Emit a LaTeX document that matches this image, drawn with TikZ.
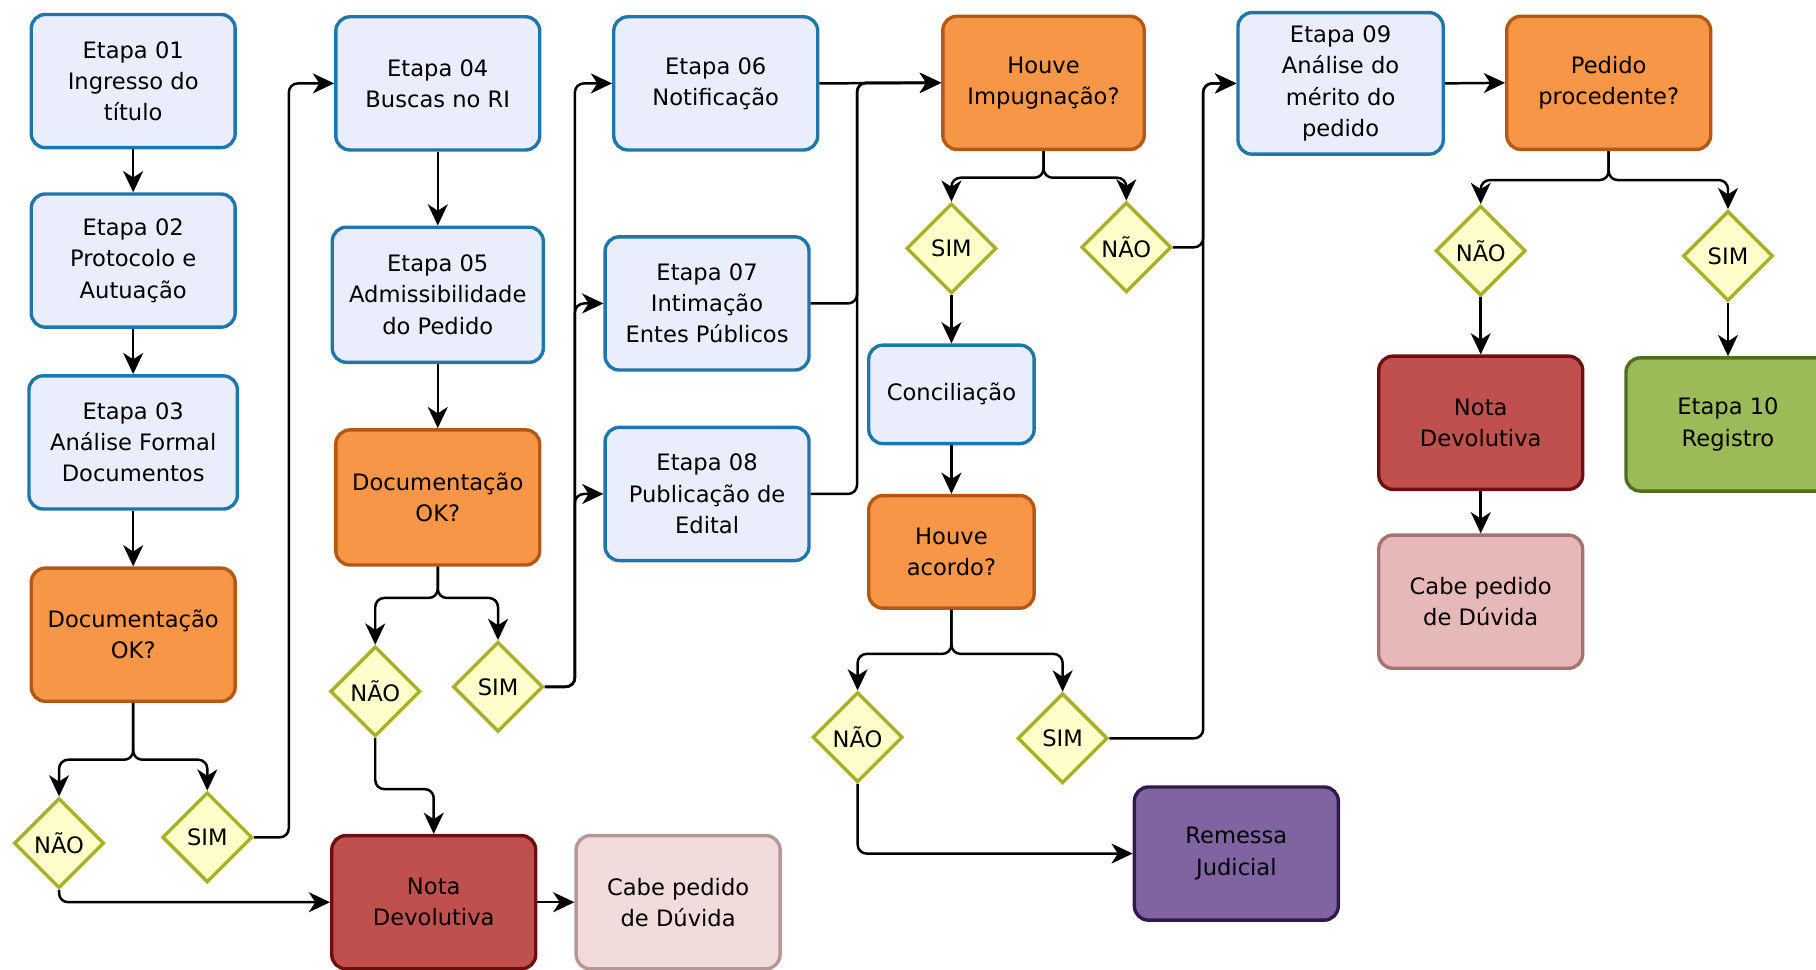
\documentclass[tikz,border=0pt]{standalone}
\usepackage{fontspec}
\setmainfont{DejaVu Sans}
\usetikzlibrary{arrows.meta, shapes.geometric}
\definecolor{stepfill}{RGB}{234,238,252}
\definecolor{stepline}{RGB}{30,118,170}
\definecolor{askfill}{RGB}{246,150,70}
\definecolor{askline}{RGB}{182,87,20}
\definecolor{ansfill}{RGB}{255,255,204}
\definecolor{ansline}{RGB}{168,176,40}
\definecolor{notefill}{RGB}{192,80,77}
\definecolor{noteline}{RGB}{110,15,15}
\definecolor{doubtfill}{RGB}{242,220,219}
\definecolor{doubtline}{RGB}{185,150,150}
\definecolor{rosefill}{RGB}{230,184,183}
\definecolor{roseline}{RGB}{165,115,115}
\definecolor{judfill}{RGB}{128,100,162}
\definecolor{judline}{RGB}{50,25,75}
\definecolor{regfill}{RGB}{155,187,89}
\definecolor{regline}{RGB}{80,110,35}

\begin{document}
\begin{tikzpicture}[x=1.8cm, y=1.8cm, >={Stealth[length=3.3mm, width=3.1mm, inset=1mm]},
    box/.style={rounded corners=0.22cm, line width=1.5pt, align=center, inner sep=2pt,
        minimum width=3.17cm, minimum height=2.07cm, font=\fontsize{10}{13.8}\selectfont},
    etapa/.style={box, fill=stepfill, draw=stepline},
    pergunta/.style={box, fill=askfill, draw=askline},
    nota/.style={box, fill=notefill, draw=noteline},
    duvida/.style={box, fill=doubtfill, draw=doubtline},
    resposta/.style={diamond, aspect=1, minimum size=1.4cm, inner sep=0pt, fill=ansfill,
        draw=ansline, line width=1.5pt, font=\fontsize{10}{12}\selectfont},
    conn/.style={->, line width=1.1pt, rounded corners=4pt}]
    \useasboundingbox (0,0) rectangle (15.68,-8.37);

    % First column
    \node[etapa] (e01) at (1.15,-0.70) {Etapa 01\\Ingresso do\\título};
    \node[etapa] (e02) at (1.15,-2.25) {Etapa 02\\Protocolo e\\Autuação};
    \node[etapa, minimum width=3.24cm] (e03) at (1.15,-3.82) {Etapa 03\\Análise Formal\\Documentos};
    \node[pergunta] (doc1) at (1.15,-5.48) {Documentação\\OK?};
    \node[resposta] (nao1) at (0.51,-7.28) {NÃO};
    \node[resposta] (sim1) at (1.79,-7.23) {SIM};
    \node[nota] (nota1) at (3.745,-7.79) {Nota\\Devolutiva};
    \node[duvida] (cabe1) at (5.855,-7.79) {Cabe pedido\\de Dúvida};

    % Second column
    \node[etapa] (e04) at (3.78,-0.72) {Etapa 04\\Buscas no RI};
    \node[etapa, minimum width=3.28cm, minimum height=2.1cm] (e05) at (3.78,-2.545) {Etapa 05\\Admissibilidade\\do Pedido};
    \node[pergunta, minimum height=2.1cm] (doc2) at (3.78,-4.295) {Documentação\\OK?};
    \node[resposta] (nao2) at (3.24,-5.97) {NÃO};
    \node[resposta] (sim2) at (4.30,-5.93) {SIM};

    % Third column
    \node[etapa] (e06) at (6.18,-0.72) {Etapa 06\\Notificação};
    \node[etapa] (e07) at (6.105,-2.62) {Etapa 07\\Intimação\\Entes Públicos};
    \node[etapa] (e08) at (6.105,-4.265) {Etapa 08\\Publicação de\\Edital};

    % Impugnation
    \node[pergunta, minimum width=3.13cm] (imp) at (9.01,-0.715) {Houve\\Impugnação?};
    \node[resposta] (sim3) at (8.215,-2.145) {SIM};
    \node[resposta] (nao3) at (9.725,-2.135) {NÃO};
    \node[etapa, minimum width=2.57cm, minimum height=1.53cm] (conc) at (8.215,-3.405) {Conciliação};
    \node[pergunta, minimum width=2.57cm, minimum height=1.75cm] (acordo) at (8.215,-4.765) {Houve\\acordo?};
    \node[resposta] (nao4) at (7.405,-6.365) {NÃO};
    \node[resposta] (sim4) at (9.175,-6.375) {SIM};
    \node[box, fill=judfill, draw=judline] (rem) at (10.675,-7.37) {Remessa\\Judicial};

    % Merit
    \node[etapa, minimum width=3.19cm, minimum height=2.2cm] (e09) at (11.575,-0.72) {Etapa 09\\Análise do\\mérito do\\pedido};
    \node[pergunta] (proc) at (13.89,-0.715) {Pedido\\procedente?};
    \node[resposta] (nao5) at (12.785,-2.165) {NÃO};
    \node[resposta] (sim5) at (14.92,-2.21) {SIM};
    \node[nota] (nota2) at (12.785,-3.65) {Nota\\Devolutiva};
    \node[box, fill=regfill, draw=regline] (reg) at (14.92,-3.665) {Etapa 10\\Registro};
    \node[box, fill=rosefill, draw=roseline] (cabe2) at (12.785,-5.195) {Cabe pedido\\de Dúvida};

    % Connectors
    \draw[conn] (e01) -- (e02);
    \draw[conn] (e02) -- (e03);
    \draw[conn] (e03) -- (doc1);
    \draw[conn] (doc1.south) -- ++(0,-0.49) -| (nao1.north);
    \draw[conn] (doc1.south) -- ++(0,-0.49) -| (sim1.north);
    \draw[conn] (sim1.east) -- ++(0.30,0) |- (e04.west);
    \draw[conn] (nao1.south) |- (nota1.west);
    \draw[conn] (nota1) -- (cabe1);

    \draw[conn] (e04) -- (e05);
    \draw[conn] (e05) -- (doc2);
    \draw[conn] (doc2.south) -- ++(0,-0.27) -| (nao2.north);
    \draw[conn] (doc2.south) -- ++(0,-0.27) -| (sim2.north);
    \draw[conn] (nao2.south) -- ++(0,-0.44) -| (nota1.north);
    \draw[conn] (sim2.east) -- ++(0.26,0) |- (e06.west);
    \draw[conn] (sim2.east) -- ++(0.26,0) |- (e07.west);
    \draw[conn] (sim2.east) -- ++(0.26,0) |- (e08.west);

    \draw[conn] (e06.east) -- (imp.west);
    \draw[conn] (e07.east) -- ++(0.40,0) |- (imp.west);
    \draw[conn] (e08.east) -- ++(0.40,0) |- (imp.west);
    \draw[conn] (imp.south) -- ++(0,-0.23) -| (sim3.north);
    \draw[conn] (imp.south) -- ++(0,-0.23) -| (nao3.north);
    \draw[conn] (sim3) -- (conc);
    \draw[conn] (conc) -- (acordo);
    \draw[conn] (acordo.south) -- ++(0,-0.38) -| (nao4.north);
    \draw[conn] (acordo.south) -- ++(0,-0.38) -| (sim4.north);
    \draw[conn] (nao4.south) |- (rem.west);
    \draw[conn] (sim4.east) -- ++(0.81,0) |- (e09.west);
    \draw[conn] (nao3.east) -- ++(0.26,0) |- (e09.west);

    \draw[conn] (e09.east) -- (proc.west);
    \draw[conn] (proc.south) -- ++(0,-0.25) -| (nao5.north);
    \draw[conn] (proc.south) -- ++(0,-0.25) -| (sim5.north);
    \draw[conn] (nao5) -- (nota2);
    \draw[conn] (sim5) -- (reg);
    \draw[conn] (nota2) -- (cabe2);
\end{tikzpicture}
\end{document}
